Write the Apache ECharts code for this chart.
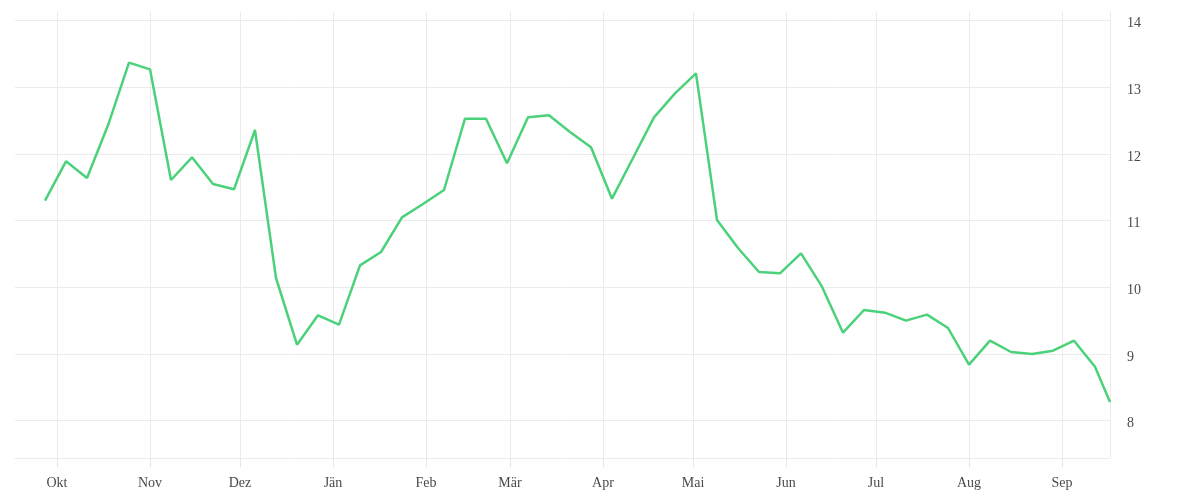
<!DOCTYPE html>
<html>
<head>
<meta charset="utf-8">
<script src="https://cdn.jsdelivr.net/npm/echarts@6/dist/echarts.min.js"></script>
<style>
html,body{margin:0;padding:0;background:#fff;}
#chart{width:1200px;height:500px;}
</style>
</head>
<body>
<div id="chart"></div>
<script>
var dates = [
  '2022-09-27','2022-10-04','2022-10-11','2022-10-18','2022-10-25',
  '2022-11-01','2022-11-08','2022-11-15','2022-11-22','2022-11-29',
  '2022-12-06','2022-12-13','2022-12-20','2022-12-27','2023-01-03',
  '2023-01-10','2023-01-17','2023-01-24','2023-01-31','2023-02-07',
  '2023-02-14','2023-02-21','2023-02-28','2023-03-07','2023-03-14',
  '2023-03-21','2023-03-28','2023-04-04','2023-04-11','2023-04-18',
  '2023-04-25','2023-05-02','2023-05-09','2023-05-16','2023-05-23',
  '2023-05-30','2023-06-06','2023-06-13','2023-06-20','2023-06-27',
  '2023-07-04','2023-07-11','2023-07-18','2023-07-25','2023-08-01',
  '2023-08-08','2023-08-15','2023-08-22','2023-08-29','2023-09-05',
  '2023-09-12','2023-09-17'
];
var values = [
  11.30, 11.89, 11.64, 12.43, 13.37,
  13.27, 11.61, 11.95, 11.55, 11.47,
  12.36, 10.14, 9.14, 9.58, 9.44,
  10.33, 10.53, 11.05, 11.25, 11.46,
  12.53, 12.53, 11.86, 12.55, 12.58,
  12.33, 12.10, 11.33, 11.94, 12.55,
  12.91, 13.21, 11.01, 10.59, 10.23,
  10.21, 10.51, 10.01, 9.32, 9.66,
  9.62, 9.50, 9.59, 9.39, 8.84,
  9.20, 9.03, 9.00, 9.05, 9.20,
  8.81, 8.28
];
var monthLabels = ['Jän','Feb','Mär','Apr','Mai','Jun','Jul','Aug','Sep','Okt','Nov','Dez'];
var yTicks = [8, 9, 10, 11, 12, 13, 14];
var xMin = '2022-09-17';
var xMax = '2023-09-17';

var chart = echarts.init(document.getElementById('chart'), null, {renderer: 'canvas'});
var gridColor = '#ebebeb';
var fontFamily = '"Liberation Serif", "DejaVu Serif", serif';
chart.setOption({
  animation: false,
  grid: {left: 15, right: 90, top: 12, bottom: 42, containLabel: false},
  xAxis: {
    type: 'time',
    min: xMin,
    max: xMax,
    splitNumber: 12,
    minInterval: 28 * 86400000,
    maxInterval: 31 * 86400000,
    axisLine: {show: true, lineStyle: {color: gridColor, width: 1}},
    axisTick: {show: true, inside: false, length: 9, lineStyle: {color: '#e6e6e6', width: 1}},
    splitLine: {show: true, showMinLine: false, showMaxLine: true, lineStyle: {color: gridColor, width: 1}},
    axisLabel: {
      showMinLabel: false,
      showMaxLabel: false,
      color: '#4a4a4a',
      fontFamily: fontFamily,
      fontSize: 14,
      margin: 18,
      hideOverlap: false,
      formatter: function (val) {
        var d = new Date(val);
        return monthLabels[d.getMonth()];
      }
    }
  },
  yAxis: {
    type: 'value',
    position: 'right',
    min: 7.44,
    max: 14.13,
    axisLine: {show: false},
    axisTick: {show: false, customValues: yTicks},
    splitLine: {show: true, lineStyle: {color: gridColor, width: 1}},
    axisLabel: {
      customValues: yTicks,
      color: '#4a4a4a',
      fontFamily: fontFamily,
      fontSize: 14,
      margin: 17,
      align: 'left',
      verticalAlign: 'top',
      lineHeight: 6
    }
  },
  series: [{
    type: 'line',
    data: dates.map(function (d, i) { return [d, values[i]]; }),
    showSymbol: false,
    symbol: 'none',
    lineStyle: {color: '#4cd17b', width: 2.5},
    itemStyle: {color: '#4cd17b'}
  }]
});
</script>
</body>
</html>
